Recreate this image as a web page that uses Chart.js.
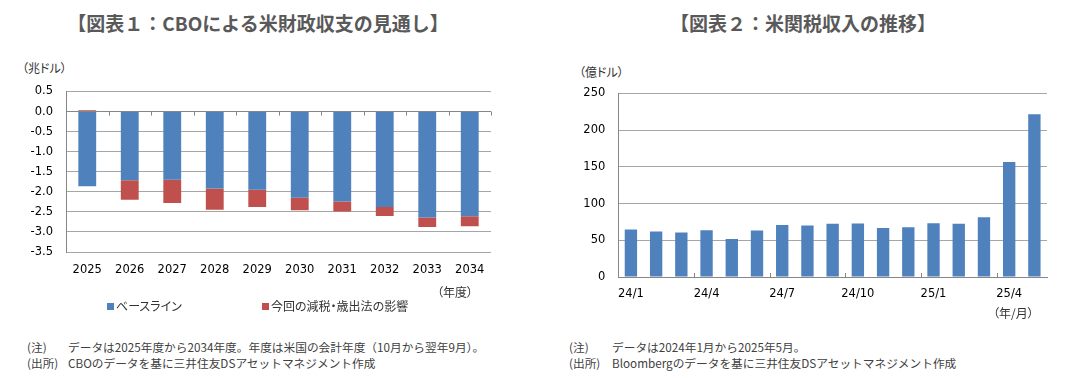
<!DOCTYPE html>
<html>
<head>
<meta charset="utf-8">
<script src="https://cdn.jsdelivr.net/npm/chart.js@4.4.1/dist/chart.umd.min.js"></script>
<style>
  html, body { margin:0; padding:0; background:#fff; }
  body { width:1084px; height:378px; position:relative; overflow:hidden;
         font-family:"Noto Sans CJK JP","Noto Sans",sans-serif; }
  .abs { position:absolute; white-space:nowrap; }
  .title { font-size:19px; font-weight:bold; color:#595959; text-align:center; line-height:24px; }
  .small { font-size:12px; color:#333; line-height:14px; font-feature-settings:"palt"; }
  .note { font-size:11.7px; color:#404040; line-height:16px; }
  .sq { display:inline-block; width:7px; height:7px; margin-right:2px; vertical-align:1px; }
  canvas { position:absolute; }
</style>
</head>
<body>
<div class="abs title" style="left:0;top:11px;width:516px;">【図表１：CBOによる米財政収支の見通し】</div>
<div class="abs title" style="left:563px;top:11px;width:480px;">【図表２：米関税収入の推移】</div>

<div class="abs small" style="left:22px;top:61px;">（兆ドル）</div>
<div class="abs small" style="left:579px;top:65px;">（億ドル）</div>

<canvas id="c1" width="510" height="205" style="left:0;top:80px;"></canvas>
<canvas id="c2" width="520" height="237" style="left:540px;top:80px;"></canvas>

<div class="abs small" style="left:437px;top:285px;">（年度）</div>
<div class="abs small" style="left:993px;top:306px;">（年/月）</div>

<div class="abs small" id="leg1a" style="left:107px;top:299px;"></div>
<div class="abs small" id="leg1b" style="left:262px;top:299px;"></div>

<div class="abs note" style="left:27px;top:339px;">(注)</div>
<div class="abs note" style="left:68px;top:339px;">データは2025年度から2034年度。年度は米国の会計年度（10月から翌年9月）。</div>
<div class="abs note" style="left:27px;top:355px;">(出所)</div>
<div class="abs note" style="left:68px;top:355px;">CBOのデータを基に三井住友DSアセットマネジメント作成</div>

<div class="abs note" style="left:569px;top:339px;">(注)</div>
<div class="abs note" style="left:612px;top:339px;">データは2024年1月から2025年5月。</div>
<div class="abs note" style="left:569px;top:355px;">(出所)</div>
<div class="abs note" style="left:612px;top:355px;">Bloombergのデータを基に三井住友DSアセットマネジメント作成</div>

<script>
// ---- Chart 1 data ----
const fiscalYears = ["2025","2026","2027","2028","2029","2030","2031","2032","2033","2034"];
const baseline    = [-1.86,-1.71,-1.70,-1.92,-1.95,-2.15,-2.24,-2.38,-2.64,-2.61];
const lawImpact   = [0.03,-0.49,-0.58,-0.53,-0.43,-0.31,-0.25,-0.22,-0.24,-0.25];
const seriesNames1 = ["ベースライン","今回の減税・歳出法の影響"];

// ---- Chart 2 data ----
const months = ["24/1","24/2","24/3","24/4","24/5","24/6","24/7","24/8","24/9","24/10","24/11","24/12","25/1","25/2","25/3","25/4","25/5"];
const tariffRevenue = [64.6,61.9,60.5,63.7,51.8,63.2,70.9,70.0,72.3,72.7,66.8,67.7,73.2,72.3,81.4,156.4,221.4];

const BLUE = "#4F81BD", RED = "#C0504D";
const GRID = "#A6A6A6", AXIS = "#868686";
const tickFont = { family: "DejaVu Sans", size: 11.5 };

document.getElementById("leg1a").innerHTML = '<span class="sq" style="background:'+BLUE+'"></span>' + seriesNames1[0];
document.getElementById("leg1b").innerHTML = '<span class="sq" style="background:'+RED+'"></span>' + seriesNames1[1];

// tick marks at category boundaries
function boundaryTicks(opts) {
  return {
    id: "bt",
    afterDatasetsDraw(chart) {
      const xs = chart.scales.x, ys = chart.scales.y, ctx = chart.ctx;
      const n = xs.getLabels().length;
      const w = (xs.right - xs.left) / n;
      const y0 = ys.getPixelForValue(opts.at);
      ctx.save();
      ctx.strokeStyle = AXIS; ctx.lineWidth = 1;
      ctx.beginPath();
      for (let i = 0; i <= n; i++) {
        if (i % opts.every !== 0) continue;
        const x = Math.round(xs.left + i * w) + 0.5;
        ctx.moveTo(x, y0); ctx.lineTo(x, y0 + opts.len);
      }
      ctx.stroke();
      ctx.restore();
    }
  };
}

Chart.defaults.animation = false;

new Chart(document.getElementById("c1"), {
  type: "bar",
  data: {
    labels: fiscalYears,
    datasets: [
      { label: seriesNames1[0], data: baseline, backgroundColor: BLUE, stack: "s" },
      { label: seriesNames1[1], data: lawImpact, backgroundColor: RED, stack: "s" }
    ]
  },
  options: {
    responsive: false,
    layout: { padding: { top: 11.5, right: 19, left: 0, bottom: 0 } },
    plugins: { legend: { display: false }, tooltip: { enabled: false } },
    datasets: { bar: { categoryPercentage: 1, barPercentage: 0.42 } },
    scales: {
      x: {
        stacked: true,
        grid: { display: false, drawTicks: false },
        border: { display: false },
        ticks: { font: tickFont, color: "#000", padding: 11, maxRotation: 0 },
        afterFit: s => { s.height = 33; s.paddingLeft = 0; s.paddingRight = 0; }
      },
      y: {
        stacked: true,
        min: -3.5, max: 0.5,
        grid: { color: c => (c.tick && c.tick.value === 0) ? AXIS : GRID, drawTicks: false },
        border: { display: true, color: AXIS },
        ticks: { stepSize: 0.5, font: tickFont, color: "#000", padding: 13,
                 callback: v => Number(v).toFixed(1) },
        afterFit: s => { s.width = 66; s.paddingTop = 0; s.paddingBottom = 0; }
      }
    }
  },
  plugins: [boundaryTicks({ at: 0, len: 4, every: 1 })]
});

new Chart(document.getElementById("c2"), {
  type: "bar",
  data: {
    labels: months,
    datasets: [{ label: "関税収入", data: tariffRevenue, backgroundColor: BLUE }]
  },
  options: {
    responsive: false,
    layout: { padding: { top: 13.3, right: 13, left: 0, bottom: 0 } },
    plugins: { legend: { display: false }, tooltip: { enabled: false } },
    datasets: { bar: { categoryPercentage: 1, barPercentage: 0.49 } },
    scales: {
      x: {
        grid: { display: false, drawTicks: false },
        border: { display: true, color: AXIS },
        ticks: { font: tickFont, color: "#000", padding: 10.5, maxRotation: 0, autoSkip: false,
                 callback: (v, i) => (i % 3 === 0 ? months[i] : "") },
        afterFit: s => { s.height = 40; s.paddingLeft = 0; s.paddingRight = 0; }
      },
      y: {
        min: 0, max: 250,
        grid: { color: GRID, drawTicks: false },
        border: { display: true, color: AXIS },
        ticks: { stepSize: 50, font: tickFont, color: "#000", padding: 13 },
        afterFit: s => { s.width = 78.3; s.paddingTop = 0; s.paddingBottom = 0; }
      }
    }
  },
  plugins: [boundaryTicks({ at: 0, len: -4, every: 3 })]
});
</script>
</body>
</html>
